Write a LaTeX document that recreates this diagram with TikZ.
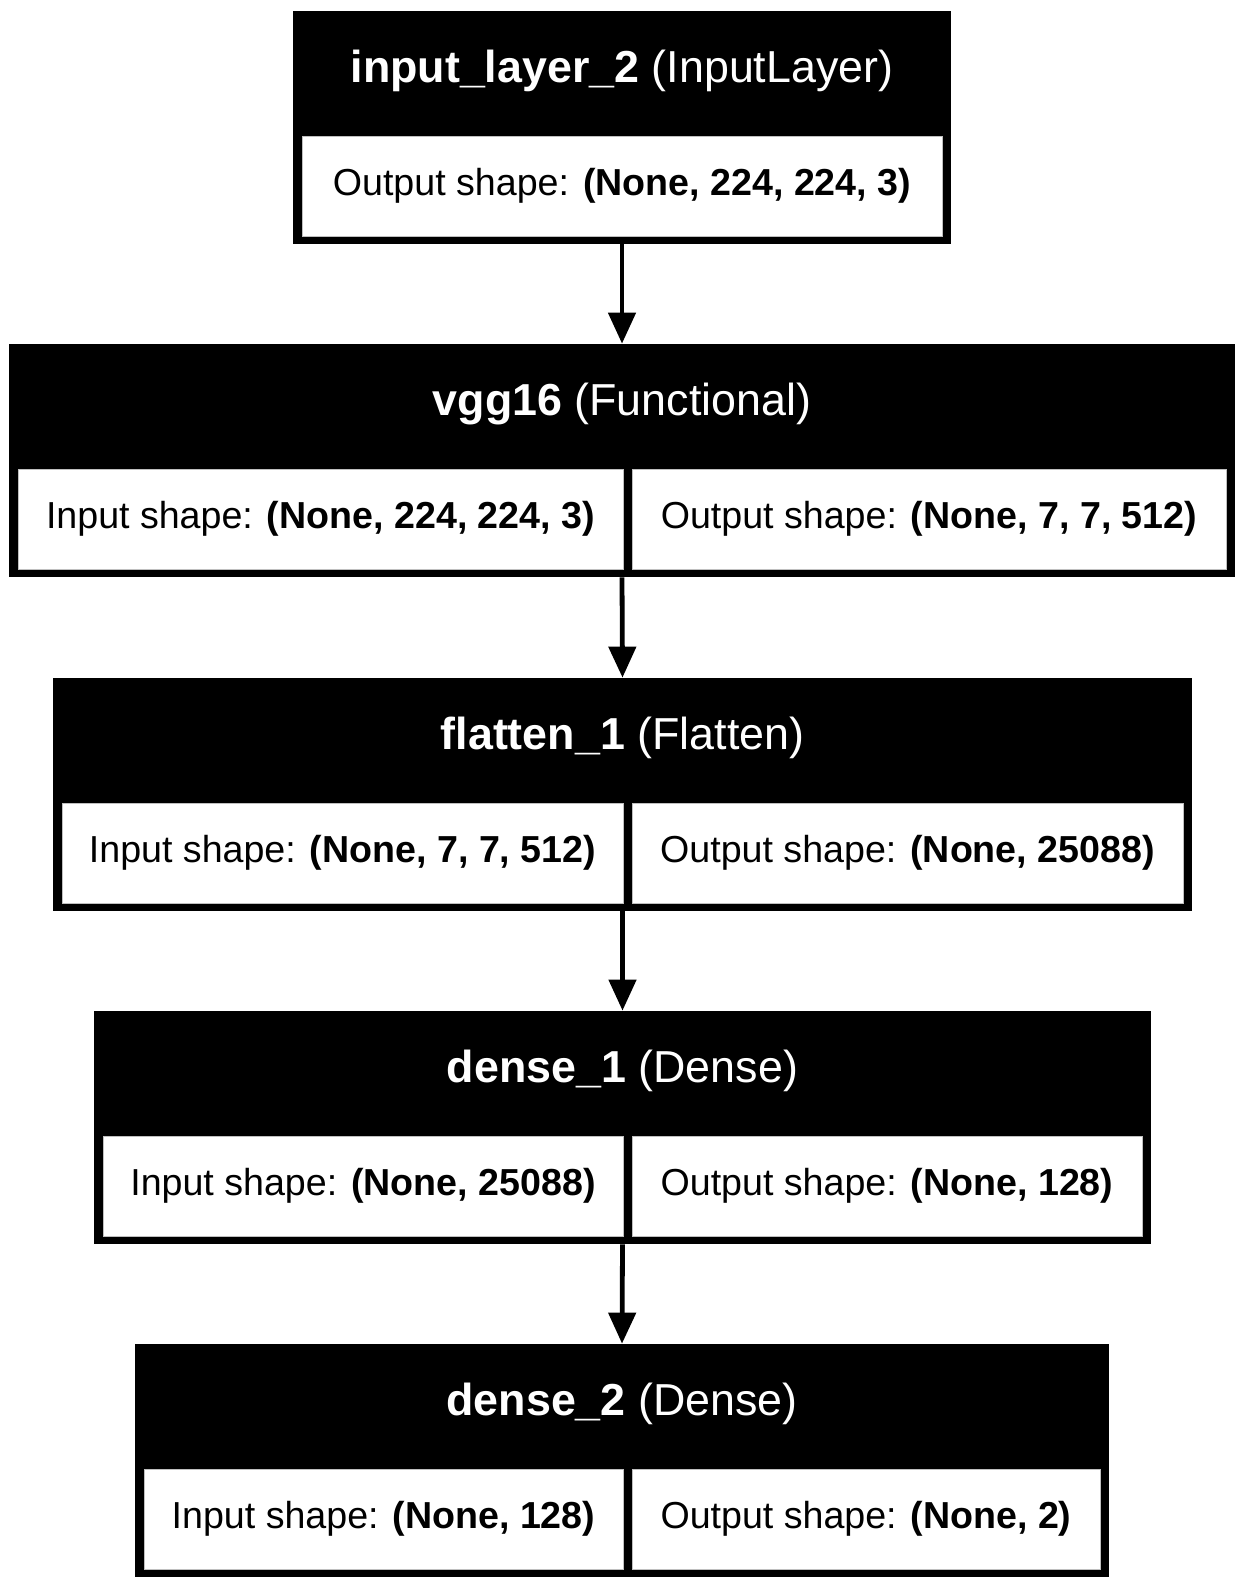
\documentclass[tikz,border=0pt]{standalone}
\usepackage{fontspec}
\setmainfont{Liberation Sans}
\usetikzlibrary{arrows.meta}

\tikzset{
  layer/.style={fill=black, inner sep=0pt, minimum height=116.5pt},
  title/.style={text=white, anchor=base, inner sep=0pt, font=\fontsize{22.4}{26}\selectfont},
  cell/.style={fill=white, draw=black!25, line width=0.4pt, inner sep=0pt, minimum height=50pt, font=\fontsize{18.8}{22}\selectfont},
  flow/.style={line width=2.4pt, -{Triangle[width=13.5pt,length=15.5pt]}}
}

\begin{document}
\begin{tikzpicture}[x=0.5pt, y=-0.5pt]
	\useasboundingbox (0,0) rectangle (1244,1589);

	\node [layer, minimum width=329pt] (input) at (622,127.5) {};
	\node [title] (inputname) at (622,82.5) {\textbf{input\_layer\_2} (InputLayer)};
	\node [cell, minimum width=320pt] (inputout) at (622,186) {Output shape: \textbf{(None, 224, 224, 3)}};

	\node [layer, minimum width=613pt] (vgg) at (622,460.5) {};
	\node [title] (vggname) at (622,415.5) {\textbf{vgg16} (Functional)};
	\node [cell, minimum width=302.5pt] (vggin) at (320.5,519) {Input shape: \textbf{(None, 224, 224, 3)}};
	\node [cell, minimum width=297pt] (vggout) at (929,519) {Output shape: \textbf{(None, 7, 7, 512)}};

	\node [layer, minimum width=569.5pt] (flatten) at (622.5,794.5) {};
	\node [title] (flattenname) at (622.5,749.5) {\textbf{flatten\_1} (Flatten)};
	\node [cell, minimum width=280.5pt] (flattenin) at (342.5,853) {Input shape: \textbf{(None, 7, 7, 512)}};
	\node [cell, minimum width=275.5pt] (flattenout) at (907.5,853) {Output shape: \textbf{(None, 25088)}};

	\node [layer, minimum width=528.5pt] (denseA) at (622.5,1127.5) {};
	\node [title] (denseAname) at (622.5,1082.5) {\textbf{dense\_1} (Dense)};
	\node [cell, minimum width=260pt] (denseAin) at (363,1186) {Input shape: \textbf{(None, 25088)}};
	\node [cell, minimum width=255pt] (denseAout) at (887,1186) {Output shape: \textbf{(None, 128)}};

	\node [layer, minimum width=487pt] (denseB) at (622,1460.5) {};
	\node [title] (denseBname) at (622,1415.5) {\textbf{dense\_2} (Dense)};
	\node [cell, minimum width=239.5pt] (denseBin) at (383.5,1519) {Input shape: \textbf{(None, 128)}};
	\node [cell, minimum width=234pt] (denseBout) at (866,1519) {Output shape: \textbf{(None, 2)}};

	\draw [flow] (input.south) -- (vgg.north);
	\draw [flow] (vgg.south) -- (flatten.north);
	\draw [flow] (flatten.south) -- (denseA.north);
	\draw [flow] (denseA.south) -- (denseB.north);
\end{tikzpicture}
\end{document}
